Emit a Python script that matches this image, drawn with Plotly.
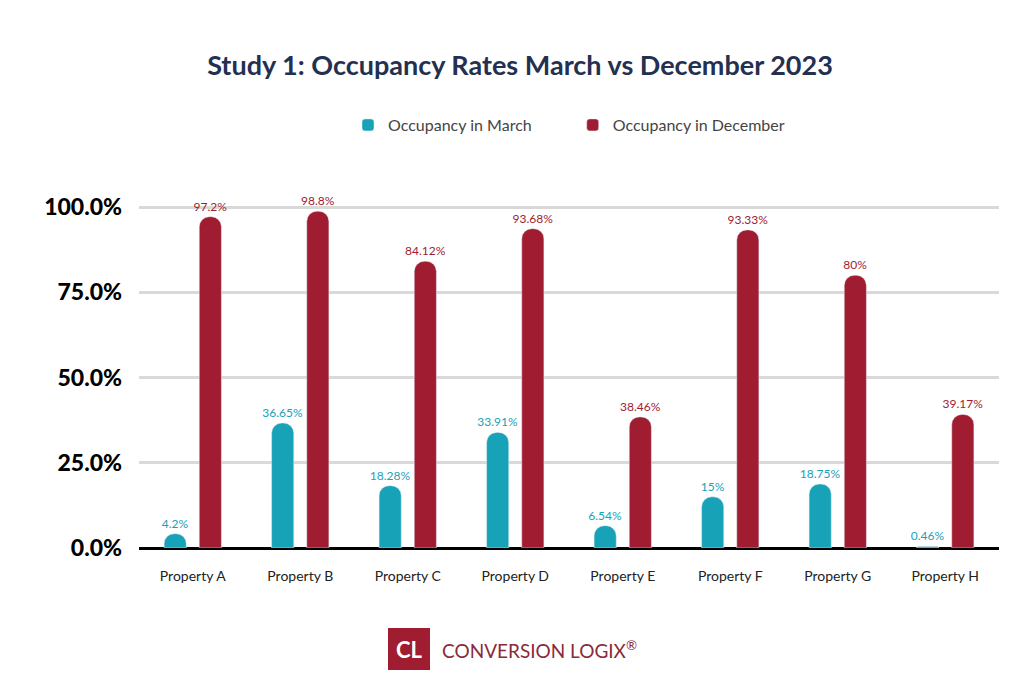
import plotly.graph_objects as go

categories = ["Property A","Property B","Property C","Property D","Property E","Property F","Property G","Property H"]
march = [4.2, 36.65, 18.28, 33.91, 6.54, 15, 18.75, 0.46]
december = [97.2, 98.8, 84.12, 93.68, 38.46, 93.33, 80, 39.17]
march_labels = ["4.2%","36.65%","18.28%","33.91%","6.54%","15%","18.75%","0.46%"]
dec_labels = ["97.2%","98.8%","84.12%","93.68%","38.46%","93.33%","80%","39.17%"]
ytick_vals = [0, 25, 50, 75, 100]
ytick_text = ["0.0%", "25.0%", "50.0%", "75.0%", "100.0%"]

teal = "#17a2b8"
red = "#a01c30"
fig = go.Figure()
fig.add_bar(x=categories, y=march, name="Occupancy in March" + "\u2003" * 3, marker=dict(color=teal, cornerradius=10),
            text=march_labels, textposition="outside", textfont=dict(color=teal, size=12),
            constraintext="none", cliponaxis=False)
fig.add_bar(x=categories, y=december, name="Occupancy in December", marker=dict(color=red, cornerradius=10),
            text=dec_labels, textposition="outside", textfont=dict(color=red, size=12),
            constraintext="none", cliponaxis=False)
L, T, W, H = 131, 162, 860, 378
def px(x): return (x - 8 - L) / W
def py(y): return 1 - (y - 8 - T) / H
fig.update_layout(
    width=1024, height=700, plot_bgcolor="white", paper_bgcolor="white",
    font=dict(family="Lato, Open Sans, sans-serif", color="#222"),
    title=dict(text="<b>Study 1: Occupancy Rates March vs December 2023</b>", x=0.5, xanchor="center",
               y=1 - 58 / 700, yanchor="middle", font=dict(size=27, color="#24304f")),
    legend=dict(orientation="h", x=0.5, xanchor="center", y=py(125), yanchor="middle",
                font=dict(size=16, color="#444")),
    uniformtext=dict(minsize=12, mode="show"),
    barmode="group", bargap=0.346, bargroupgap=0.37,
    margin=dict(l=L, r=1024 - L - W, t=T, b=700 - T - H),
    xaxis=dict(tickfont=dict(size=14, color="#222"), showline=False, ticks="", ticklabelstandoff=18),
    yaxis=dict(range=[0, 110.9], tickvals=ytick_vals, ticktext=ytick_text,
               tickfont=dict(size=23, color="black", family="Lato, sans-serif", weight=900),
               gridcolor="#d9d9d9", gridwidth=3, zeroline=True, zerolinecolor="black", zerolinewidth=3,
               ticklabelstandoff=16, automargin=False),
)
fig.add_shape(type="rect", xref="paper", yref="paper", x0=px(388), x1=px(430),
              y0=py(628), y1=py(670), fillcolor=red, line_width=0)
fig.add_annotation(xref="paper", yref="paper", x=px(409), y=py(649), xanchor="center", yanchor="middle",
                   text="<b>CL</b>", showarrow=False, font=dict(size=22, color="white"))
fig.add_annotation(xref="paper", yref="paper", x=px(440), y=py(649), xanchor="left", yanchor="middle",
                   text="CONVERSION LOGIX<sup>®</sup>", showarrow=False, font=dict(size=19, color="#8a2a3a"))
fig.write_html("out.html")
